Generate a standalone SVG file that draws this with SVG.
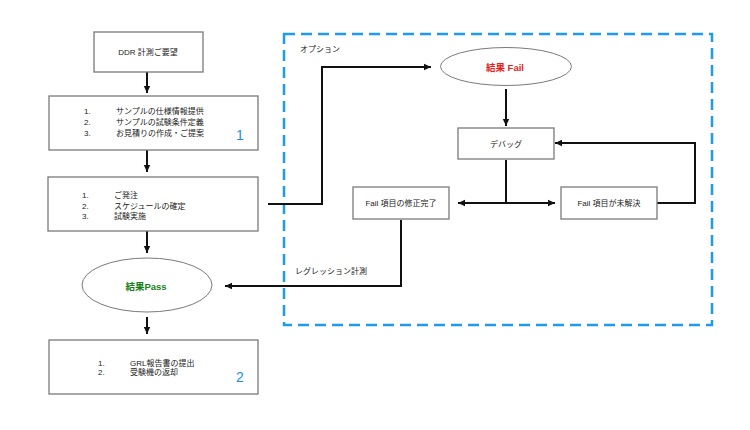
<svg xmlns="http://www.w3.org/2000/svg" width="750" height="430" viewBox="0 0 750 430">
<style>
text{font-family:"Liberation Sans","Noto Sans CJK JP",sans-serif;font-size:8px;fill:#222}
.box{fill:#fff;stroke:#7a7a7a;stroke-width:1.3}
.ell{fill:#fff;stroke:#7a7a7a;stroke-width:1}
.c{fill:none;stroke:#111;stroke-width:2}
.num{font-size:14px;fill:#1e90d8}
.mid{text-anchor:middle;dominant-baseline:central}
</style>
<defs>
<marker id="ah" markerUnits="userSpaceOnUse" markerWidth="8" markerHeight="8" refX="7" refY="4" orient="auto">
<path d="M0,0.8 L7,4 L0,7.2 Z" fill="#111"/>
</marker>
</defs>
<rect x="0" y="0" width="750" height="430" fill="#fff"/>
<g id="option-area">
<rect x="284" y="34" width="428" height="291" fill="none" stroke="#1e9bf0" stroke-width="2.5" stroke-dasharray="11,6"/>
<text x="300" y="52" style="font-size:8px">オプション</text>
</g>
<g id="connectors">
<path class="c" d="M147,72 V93" marker-end="url(#ah)"/>
<path class="c" d="M147,150 V172" marker-end="url(#ah)"/>
<path class="c" d="M147,231 V253" marker-end="url(#ah)"/>
<path class="c" d="M147,317 V334" marker-end="url(#ah)"/>
<path class="c" d="M268,204 H322 V67 H431" marker-end="url(#ah)"/>
<path class="c" d="M506,89 V126" marker-end="url(#ah)"/>
<path class="c" d="M506,160 V203"/>
<path class="c" d="M506,203 H458" marker-end="url(#ah)"/>
<path class="c" d="M506,203 H555" marker-end="url(#ah)"/>
<path class="c" d="M657,203 H695 V143 H555" marker-end="url(#ah)"/>
<path class="c" d="M401,220 V286 H225" marker-end="url(#ah)"/>
<text x="295" y="274" style="font-size:8px">レグレッション計測</text>
</g>
<g id="n-request">
<rect class="box" x="94" y="32" width="109" height="40"/>
<text class="mid" x="148" y="52">DDR 計測ご要望</text>
</g>
<g id="n-step1">
<rect class="box" x="49" y="96" width="209" height="54"/>
<text x="84" y="114">1.</text><text x="116" y="114">サンプルの仕様情報提供</text>
<text x="84" y="125">2.</text><text x="116" y="125">サンプルの試験条件定義</text>
<text x="84" y="136">3.</text><text x="116" y="136">お見積りの作成・ご提案</text>
<text class="num" x="236" y="140">1</text>
</g>
<g id="n-step2">
<rect class="box" x="48" y="177" width="210" height="54"/>
<text x="82" y="198">1.</text><text x="114" y="198">ご発注</text>
<text x="82" y="209">2.</text><text x="114" y="209">スケジュールの確定</text>
<text x="82" y="219">3.</text><text x="114" y="219">試験実施</text>
</g>
<g id="n-pass">
<ellipse class="ell" cx="147" cy="285" rx="65" ry="27"/>
<text class="mid" x="146" y="286" style="font-weight:bold;font-size:9.5px;fill:#1a7f1a">結果Pass</text>
</g>
<g id="n-report">
<rect class="box" x="49" y="340" width="209" height="54"/>
<text x="98" y="366">1.</text><text x="130" y="366">GRL報告書の提出</text>
<text x="98" y="375">2.</text><text x="130" y="375">受験機の返却</text>
<text class="num" x="236" y="382">2</text>
</g>
<g id="n-fail">
<ellipse class="ell" cx="506" cy="66.5" rx="65.5" ry="19"/>
<text class="mid" x="505" y="67" style="font-weight:bold;font-size:9.5px;fill:#e8231f">結果 Fail</text>
</g>
<g id="n-debug">
<rect class="box" x="458" y="128" width="96" height="31"/>
<text class="mid" x="506" y="144">デバッグ</text>
</g>
<g id="n-fixed">
<rect class="box" x="353" y="187" width="96" height="32"/>
<text class="mid" x="401" y="203">Fail 項目の修正完了</text>
</g>
<g id="n-unresolved">
<rect class="box" x="561" y="187" width="96" height="32"/>
<text class="mid" x="609" y="203">Fail 項目が未解決</text>
</g>
</svg>
